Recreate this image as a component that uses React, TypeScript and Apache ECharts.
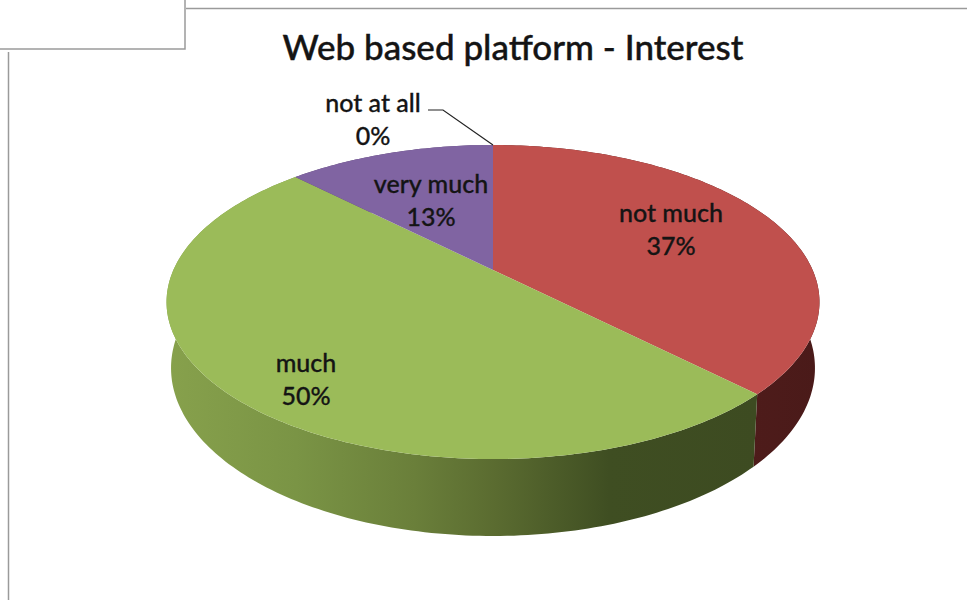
import React, { useEffect, useRef } from "react";
import * as echarts from "echarts";

const TITLE = "Web based platform - Interest";
const categories = ["not much", "much", "very much", "not at all"];
const shares = [37.49, 50, 12.51, 0];
const topColors = ["#c0504d", "#9bbb59", "#8064a2", "#4bacc6"];

const CX = 493;
const K = 0.2039;
const TOP_RIM = { A: 319.6, B: 150.5, y0: 270 };
const LOW_RIM = { A: 315.2, B: 161, y0: 333.75 };
const LABEL_AT: [number, number][] = [
  [671, 228],
  [306, 378],
  [431, 199],
  [373, 118],
];
const FONT = "Lato, Carlito, Calibri, sans-serif";
const STEP = (2 * Math.PI) / 360;

function project(rim: { A: number; B: number; y0: number }, theta: number): [number, number] {
  const u = Math.sin(theta);
  const v = -Math.cos(theta);
  const w = 1 - K * v;
  return [CX + (rim.A * u) / w, rim.y0 + (rim.B * v) / w];
}

function arcPoints(rim: { A: number; B: number; y0: number }, a: number, b: number) {
  const n = Math.max(1, Math.ceil(Math.abs(b - a) / STEP));
  const pts: [number, number][] = [];
  for (let i = 0; i <= n; i++) pts.push(project(rim, a + ((b - a) * i) / n));
  return pts;
}

function toPath(pts: [number, number][]) {
  return pts.map((p, i) => `${i ? "L" : "M"}${p[0].toFixed(2)} ${p[1].toFixed(2)}`).join(" ") + " Z";
}

function sliceAngles(index: number): [number, number] {
  const total = shares.reduce((s, x) => s + x, 0);
  let before = 0;
  for (let i = 0; i < index; i++) before += shares[i];
  return [(before / total) * 2 * Math.PI, ((before + shares[index]) / total) * 2 * Math.PI];
}

const wallFills: any[] = [
  new echarts.graphic.LinearGradient(0, 0, 1, 0, [
    { offset: 0, color: "#5c2120" },
    { offset: 1, color: "#4a1a19" },
  ]),
  new echarts.graphic.LinearGradient(0, 0, 1, 0, [
    { offset: 0, color: "#87a14c" },
    { offset: 0.22, color: "#7a9445" },
    { offset: 0.42, color: "#6a7f3a" },
    { offset: 0.56, color: "#5a6b30" },
    { offset: 0.75, color: "#3f4e22" },
    { offset: 1, color: "#3d4b21" },
  ]),
  "#5a4672",
  "#2f7f95",
];

export default function App() {
  const ref = useRef<HTMLDivElement>(null);
  useEffect(() => {
    const chart = echarts.init(ref.current!, undefined, { renderer: "svg" });
    const seriesData = categories.map((name, i) => ({ name, value: shares[i] }));
    const pct = (i: number) => `${Math.round(shares[i])}%`;
    chart.setOption({
      animation: false,
      backgroundColor: "#ffffff",
      title: {
        text: TITLE,
        left: 513,
        top: 23,
        textAlign: "center",
        textStyle: {
          fontFamily: FONT,
          fontSize: 35,
          fontWeight: 500,
          color: "#141414",
          textBorderColor: "#141414",
          textBorderWidth: 0.4,
        },
      },
      graphic: [
        { type: "polyline", shape: { points: [[0, 49], [185, 49], [185, 0]] }, style: { stroke: "#9a9a9a", lineWidth: 1.5, fill: "none" } },
        { type: "line", shape: { x1: 186, y1: 8.5, x2: 967, y2: 8.5 }, style: { stroke: "#9a9a9a", lineWidth: 1.5 } },
        { type: "line", shape: { x1: 8.5, y1: 52, x2: 8.5, y2: 600 }, style: { stroke: "#9a9a9a", lineWidth: 1.5 } },
      ],
      series: [
        {
          type: "custom",
          coordinateSystem: "none",
          z: 1,
          data: seriesData,
          renderItem: (p: any) => {
            const i = p.dataIndex;
            const [a, b] = sliceAngles(i);
            if (b - a <= 0) return { type: "group", children: [] };
            const pts = [...arcPoints(TOP_RIM, a, b), ...arcPoints(LOW_RIM, b, a)];
            return { type: "path", shape: { pathData: toPath(pts) }, style: { fill: wallFills[i] } };
          },
        },
        {
          type: "custom",
          coordinateSystem: "none",
          z: 2,
          data: seriesData,
          renderItem: (p: any) => {
            const i = p.dataIndex;
            const [a, b] = sliceAngles(i);
            if (b - a <= 0) return { type: "group", children: [] };
            const apex: [number, number] = [CX, TOP_RIM.y0];
            return {
              type: "path",
              shape: { pathData: toPath([apex, ...arcPoints(TOP_RIM, a, b)]) },
              style: { fill: topColors[i] },
            };
          },
        },
        {
          type: "custom",
          coordinateSystem: "none",
          z: 3,
          data: seriesData,
          renderItem: (p: any) => {
            const i = p.dataIndex;
            const [x, y] = LABEL_AT[i];
            const children: any[] = [
              {
                type: "text",
                style: {
                  text: `${categories[i]}\n${pct(i)}`,
                  x,
                  y,
                  align: "center",
                  verticalAlign: "middle",
                  lineHeight: 33,
                  fill: "#141414",
                  stroke: "#141414",
                  lineWidth: 0.3,
                  font: `500 25px ${FONT}`,
                },
              },
            ];
            if (shares[i] === 0) {
              const rim = project(TOP_RIM, sliceAngles(i)[0]);
              children.push({
                type: "polyline",
                shape: { points: [[x + 55, y - 8], [x + 70, y - 8], rim] },
                style: { stroke: "#222222", lineWidth: 1.2, fill: "none" },
              });
            }
            return { type: "group", children };
          },
        },
      ],
    });
    chart.setOption({ title: { left: 508 } });
    return () => chart.dispose();
  }, []);
  return <div ref={ref} style={{ position: "absolute", left: 0, top: 0, width: 967, height: 600 }} />;
}
